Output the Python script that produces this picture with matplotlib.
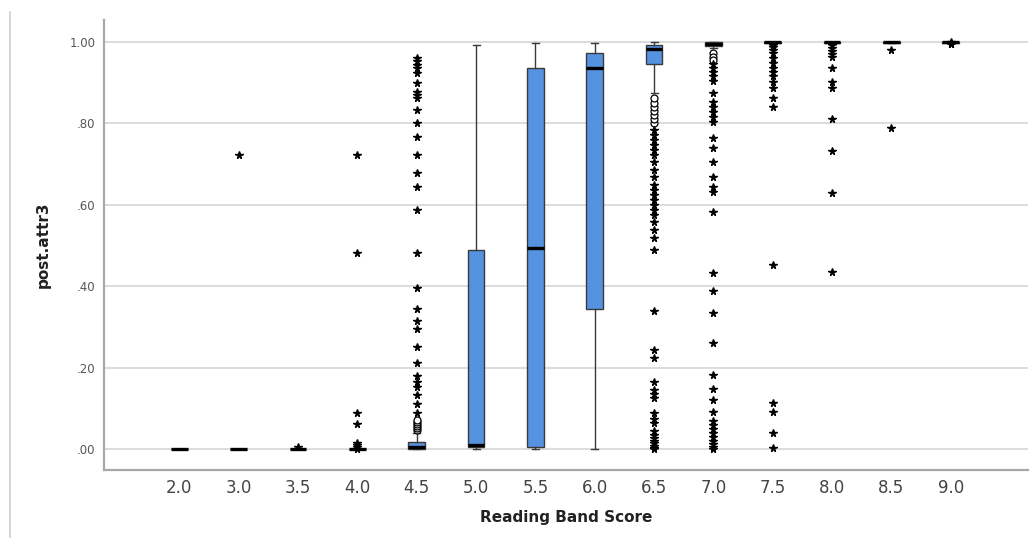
import numpy as np
import matplotlib.pyplot as plt
from matplotlib.lines import Line2D

bands = ["2.0", "3.0", "3.5", "4.0", "4.5", "5.0", "5.5", "6.0", "6.5", "7.0", "7.5", "8.0", "8.5", "9.0"]

# box statistics
q1 = [0, 0, 0, 0, 0, 0.005, 0.005, 0.343, 0.945, 0.990, 0.997, 0.998, 0.998, 0.998]
med = [0, 0, 0, 0, 0.004, 0.010, 0.493, 0.935, 0.982, 0.996, 0.999, 0.999, 0.999, 0.999]
q3 = [0, 0, 0, 0, 0.018, 0.490, 0.936, 0.973, 0.993, 0.999, 1.0, 1.0, 1.0, 1.0]
whis_lo = [0, 0, 0, 0, 0, 0, 0, 0, 0.875, 0.985, 0.995, 0.996, 0.997, 0.997]
whis_hi = [0, 0, 0, 0, 0.040, 0.993, 0.998, 0.998, 0.999, 1.0, 1.0, 1.0, 1.0, 1.0]

# outliers (circles) and extremes (stars)
circ_45 = [0.047, 0.052, 0.057, 0.062, 0.067, 0.072]
circ_65 = [0.800, 0.810, 0.820, 0.830, 0.840, 0.850, 0.862]
circ_70 = [0.972, 0.964, 0.955]

star_30 = [0.722]
star_35 = [0.005]
star_40 = [0.722, 0.481, 0.089, 0.061, 0.015, 0.010, 0.005, 0.0]
star_45 = [0.960, 0.952, 0.944, 0.935, 0.923, 0.899, 0.878, 0.870, 0.862, 0.833,
           0.802, 0.767, 0.722, 0.679, 0.643, 0.587, 0.481, 0.395, 0.343, 0.315,
           0.294, 0.251, 0.212, 0.179, 0.165, 0.152, 0.133, 0.111, 0.088]
star_65 = [0.784, 0.771, 0.759, 0.747, 0.735, 0.722, 0.706, 0.686, 0.669, 0.649,
           0.636, 0.624, 0.612, 0.600, 0.587, 0.575, 0.558, 0.538, 0.518, 0.489,
           0.339, 0.243, 0.223, 0.164, 0.145, 0.135, 0.125, 0.088, 0.075, 0.063,
           0.045, 0.035, 0.028, 0.020, 0.014, 0.008, 0.003, 0.0]
star_70 = [0.945, 0.935, 0.925, 0.915, 0.905, 0.874, 0.853, 0.840, 0.828, 0.816,
           0.804, 0.763, 0.739, 0.706, 0.669, 0.644, 0.632, 0.581, 0.433, 0.389,
           0.335, 0.261, 0.182, 0.147, 0.120, 0.092, 0.070, 0.060, 0.050, 0.040,
           0.030, 0.020, 0.012, 0.005, 0.0]
star_75 = [0.993, 0.987, 0.980, 0.972, 0.960, 0.948, 0.935, 0.927, 0.915, 0.902,
           0.886, 0.862, 0.840, 0.452, 0.112, 0.092, 0.040, 0.002]
star_80 = [0.993, 0.985, 0.978, 0.970, 0.962, 0.935, 0.902, 0.886, 0.810, 0.733,
           0.630, 0.436]
star_85 = [0.980, 0.788]
star_90 = [1.0, 0.998, 0.996, 0.994]

circles = [[], [], [], [], circ_45, [], [], [], circ_65, circ_70, [], [], [], []]
stars = [[], star_30, star_35, star_40, star_45, [], [], [], star_65, star_70,
         star_75, star_80, star_85, star_90]

fig = plt.figure(figsize=(10.3, 5.38), dpi=100)
ax = fig.add_axes([0.101, 0.126, 0.897, 0.837])

pos = np.arange(len(bands))
stats = []
for i in range(len(bands)):
    stats.append(dict(q1=q1[i], med=med[i], q3=q3[i], whislo=whis_lo[i],
                      whishi=whis_hi[i], fliers=[]))

ax.bxp(stats, positions=pos, widths=0.28, patch_artist=True, showfliers=False,
       capwidths=0.12,
       boxprops=dict(facecolor='#5592e0', edgecolor='#3a3a3a', linewidth=1.0),
       medianprops=dict(color='black', linewidth=2.4),
       whiskerprops=dict(color='#3a3a3a', linewidth=1.0),
       capprops=dict(color='#3a3a3a', linewidth=1.0), zorder=3)

for i in range(len(bands)):
    if circles[i]:
        ax.plot([pos[i]] * len(circles[i]), circles[i], 'o', mfc='white',
                mec='black', ms=5, mew=0.9, zorder=4)
    if stars[i]:
        ax.plot([pos[i]] * len(stars[i]), stars[i], '*', color='black',
                ms=5.5, zorder=4)

ax.set_xlim(-1.27, 14.3)
ax.set_ylim(-0.052, 1.054)
ax.set_yticks([0, 0.2, 0.4, 0.6, 0.8, 1.0])
ax.set_yticklabels([".00", ".20", ".40", ".60", ".80", "1.00"], fontsize=8.5, color='#555555')
ax.set_xticks(pos)
ax.set_xticklabels(bands, fontsize=12, color='#444444')
ax.tick_params(length=0, pad=6)
ax.yaxis.grid(True, color='#d9d9d9', linewidth=1.3)
ax.set_axisbelow(True)
for s in ['top', 'right']:
    ax.spines[s].set_visible(False)
for s in ['left', 'bottom']:
    ax.spines[s].set_color('#a8a8a8')
    ax.spines[s].set_linewidth(1.6)

ax.set_xlabel("Reading Band Score", fontsize=11, fontweight='bold', color='#222222', labelpad=10)
ax.set_ylabel("post.attr3", fontsize=11, fontweight='bold', color='#222222', labelpad=14)

fig.add_artist(Line2D([0.0097, 0.0097], [0.0, 0.978], color='#d0d0d0', linewidth=1.2))

fig.savefig("out.png", dpi=100)
